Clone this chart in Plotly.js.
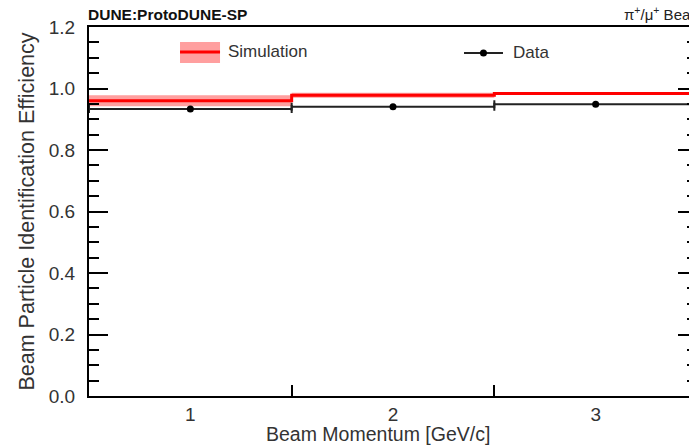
<!DOCTYPE html>
<html>
<head>
<meta charset="utf-8">
<script src="https://cdn.plot.ly/plotly-3.0.1.min.js"></script>
<style>
html,body{margin:0;padding:0;width:689px;height:446px;overflow:hidden;background:#fff;}
#chart{width:700px;height:446px;}
</style>
</head>
<body>
<div id="chart"></div>
<script>
// Data
const momentum = [1, 2, 3];                 // GeV/c bin centres
const binEdges = [0.5, 1.5, 2.5, 3.5];
const binHalfWidth = [0.5, 0.5, 0.5];
const simEff = [0.960, 0.978, 0.984];
const simErr = [0.018, 0.008, 0.003];
const dataEff = [0.933, 0.941, 0.949];
const tickLabels = ['1', '2', '3'];
const yTicks = [0.0, 0.2, 0.4, 0.6, 0.8, 1.0, 1.2];

const step = arr => arr.concat([arr[arr.length - 1]]);
const simLow = simEff.map((v, i) => v - simErr[i]);
const simHigh = simEff.map((v, i) => v + simErr[i]);

const FONT = 'Liberation Sans, Arial, sans-serif';
const PINK = '#ff9f9f';
const RED = '#ff0000';

const traces = [
  { x: binEdges, y: step(simLow), mode: 'lines', line: {shape: 'hv', width: 0, color: PINK},
    showlegend: false, hoverinfo: 'skip' },
  { x: binEdges, y: step(simHigh), mode: 'lines', line: {shape: 'hv', width: 0, color: PINK},
    fill: 'tonexty', fillcolor: PINK, showlegend: false, hoverinfo: 'skip' },
  { x: binEdges, y: step(simEff), mode: 'lines', line: {shape: 'hv', width: 3, color: RED},
    name: 'Simulation', showlegend: false },
  { x: momentum, y: dataEff, mode: 'markers', name: 'Data', showlegend: false,
    marker: {color: '#000', size: 7, symbol: 'circle'},
    error_x: {type: 'data', array: binHalfWidth, visible: true, color: '#222', thickness: 2, width: 4} }
];

const layout = {
  width: 700, height: 446,
  margin: {l: 89, r: 3, t: 27, b: 50},
  paper_bgcolor: '#fff', plot_bgcolor: '#fff',
  font: {family: FONT, color: '#333'},
  showlegend: false,
  xaxis: {
    range: [binEdges[0], binEdges[binEdges.length - 1]],
    tickvals: momentum, ticktext: tickLabels,
    ticks: 'inside', ticklen: 0,
    minor: {tickvals: binEdges.slice(1, -1), ticks: 'inside', ticklen: 11, tickwidth: 2, tickcolor: '#000'},
    showgrid: false, zeroline: false,
    showline: true, linecolor: '#000', linewidth: 2, mirror: true,
    tickfont: {size: 19, color: '#333'}
  },
  yaxis: {
    range: [0, 1.2],
    tickvals: yTicks, ticktext: yTicks.map(v => v.toFixed(1)),
    ticks: 'inside', ticklen: 19, tickwidth: 2, tickcolor: '#000',
    minor: {dtick: 0.05, ticks: 'inside', ticklen: 10, tickwidth: 2, tickcolor: '#000', showgrid: false},
    showgrid: false, zeroline: false,
    showline: true, linecolor: '#000', linewidth: 2, mirror: 'ticks',
    tickfont: {size: 19, color: '#333'},
    ticklabelstandoff: 8,
    title: {text: 'Beam Particle Identification Efficiency', font: {size: 21.5, color: '#333'}, standoff: 8}
  },
  shapes: [
    {type: 'rect', xref: 'paper', yref: 'paper', x0: 0.1497, x1: 0.2155, y0: 0.9027, y1: 0.9595,
     fillcolor: PINK, line: {width: 0}},
    {type: 'line', xref: 'paper', yref: 'paper', x0: 0.1497, x1: 0.2155, y0: 0.9324, y1: 0.9324,
     line: {color: RED, width: 3}},
    {type: 'line', xref: 'paper', yref: 'paper', x0: 0.6168, x1: 0.6809, y0: 0.9297, y1: 0.9297,
     line: {color: '#222', width: 2}},
    {type: 'circle', xref: 'paper', yref: 'paper', xsizemode: 'pixel', ysizemode: 'pixel',
     xanchor: 0.6488, yanchor: 0.9297, x0: -3.5, x1: 3.5, y0: -3.5, y1: 3.5,
     fillcolor: '#000', line: {width: 0}}
  ],
  annotations: [
    {text: 'Simulation', xref: 'paper', yref: 'paper', x: 0.226, y: 0.9324, xanchor: 'left', yanchor: 'middle',
     showarrow: false, font: {size: 17, color: '#333'}},
    {text: 'Data', xref: 'paper', yref: 'paper', x: 0.6935, y: 0.9297, xanchor: 'left', yanchor: 'middle',
     showarrow: false, font: {size: 17, color: '#333'}},
    {text: 'Beam Momentum [GeV/c]', xref: 'paper', yref: 'paper', x: 0.475, y: -0.104, xanchor: 'center', yanchor: 'middle',
     showarrow: false, font: {size: 19.5, color: '#333'}},
    {text: '<b>DUNE:ProtoDUNE-SP</b>', xref: 'paper', yref: 'paper', x: 0, y: 1, xanchor: 'left', yanchor: 'bottom',
     yshift: 2, xshift: -3, showarrow: false, font: {size: 15.5, color: '#111'}},
    {text: 'π<sup>+</sup>/μ<sup>+</sup> Beam', xref: 'paper', yref: 'paper', x: 1, y: 1, xanchor: 'right', yanchor: 'bottom',
     yshift: 2, xshift: 8, showarrow: false, font: {size: 15, color: '#222'}}
  ]
};

Plotly.newPlot('chart', traces, layout, {displayModeBar: false, staticPlot: true});
</script>
</body>
</html>
